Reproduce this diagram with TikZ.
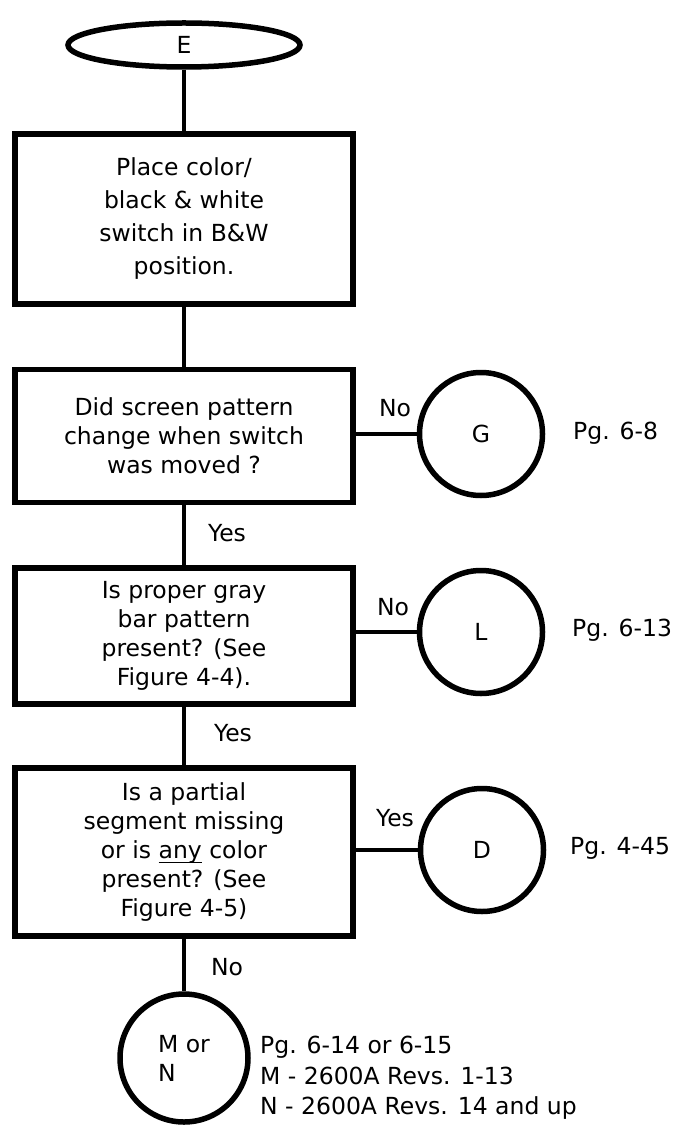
\documentclass[tikz,border=0pt]{standalone}
\usepackage{fontspec}
\setmainfont{DejaVu Sans}
\usetikzlibrary{shapes.geometric}
\newcommand{\ulword}[1]{\setbox0=\hbox{#1}\rlap{\raisebox{-5pt}{\rule{\wd0}{1.6pt}}}\box0{}}
\begin{document}
\begin{tikzpicture}[x=1pt, y=-1pt,
  startoval/.style={draw, ellipse, line width=5.5pt, minimum width=232pt, minimum height=44pt, inner sep=0pt, font=\fontsize{23.5}{29}\selectfont},
  procbox/.style={draw, line width=5.5pt, align=center, minimum width=338pt, inner sep=0pt, font=\fontsize{23.5}{29}\selectfont},
  endcirc/.style={draw, circle, line width=5.5pt, minimum size=123pt, inner sep=0pt, font=\fontsize{23.5}{29}\selectfont},
  note/.style={inner sep=0pt, font=\fontsize{23.5}{30.5}\selectfont},
  link/.style={line width=4pt}]
\useasboundingbox (0,0) rectangle (679,1131);
\node[startoval] (n0) at (184,45) {E};
\node[procbox, minimum height=170pt, font=\fontsize{23.5}{33}\selectfont] (n1) at (184,219) {Place color/\\black \& white\\switch in B\&W\\position.};
\node[procbox, minimum height=133pt] (n2) at (184,436) {Did screen pattern\\change when switch\\was moved ?};
\node[procbox, minimum height=136pt] (n3) at (184,636) {Is proper gray\\bar pattern\\present? (See\\Figure 4-4).};
\node[procbox, minimum height=168pt] (n4) at (184,852) {Is a partial\\segment missing\\or is \ulword{any} color\\present? (See\\Figure 4-5)};
\node[endcirc] (c1) at (481,434) {G};
\node[endcirc] (c2) at (481,632) {L};
\node[endcirc] (c3) at (482,850) {D};
\node[endcirc, minimum size=128pt, align=left] (c4) at (184,1058) {M or\\N};
\node[note] (no1) at (395,408) {No};
\node[note] (yes1) at (227,533) {Yes};
\node[note] (no2) at (393,607) {No};
\node[note] (yes2) at (233,733) {Yes};
\node[note] (yes3) at (395,818) {Yes};
\node[note] (no3) at (227,967) {No};
\node[note, anchor=west] (pg1) at (573,433) {Pg. 6-8};
\node[note, anchor=west] (pg2) at (572,630) {Pg. 6-13};
\node[note, anchor=west] (pg3) at (570,848) {Pg. 4-45};
\node[note, anchor=west, align=left] (pg4) at (260,1078) {Pg. 6-14 or 6-15\\M - 2600A Revs. 1-13\\N - 2600A Revs. 14 and up};
\draw[link] (n0) -- (n1);
\draw[link] (n1) -- (n2);
\draw[link] (n2) -- (n3);
\draw[link] (n3) -- (n4);
\draw[link] (n4) -- (c4);
\draw[link] (n2.east |- c1) -- (c1);
\draw[link] (n3.east |- c2) -- (c2);
\draw[link] (n4.east |- c3) -- (c3);
\end{tikzpicture}
\end{document}
